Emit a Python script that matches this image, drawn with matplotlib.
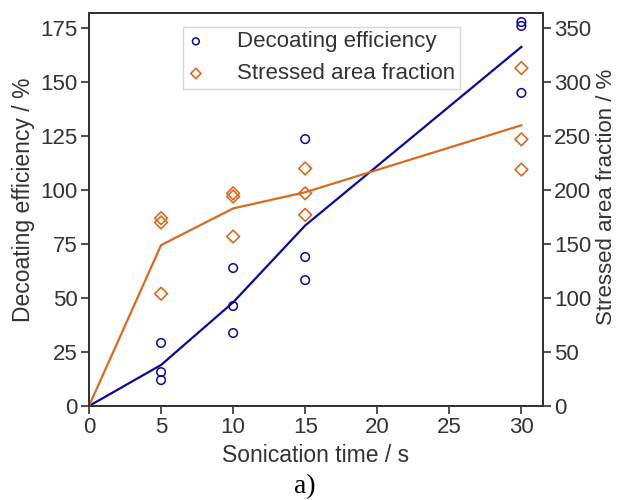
import matplotlib
matplotlib.use("Agg")
import matplotlib.pyplot as plt

plt.rcParams['font.family'] = ['Liberation Sans', 'DejaVu Sans']

# scatter data
t_decoat = [5, 5, 5, 10, 10, 10, 15, 15, 15, 30, 30, 30]
decoat = [29.2, 15.7, 12.0, 63.9, 46.3, 33.8, 123.6, 69.0, 58.3, 177.8, 176.0, 145.0]
t_stress = [5, 5, 5, 10, 10, 10, 15, 15, 15, 30, 30, 30]
stress = [174, 170, 104, 197, 194, 157, 220, 197, 177, 313, 247, 219]

# mean lines
t_line = [0, 5, 10, 15, 30]
decoat_mean = [0, 19.0, 48.0, 83.6, 166.3]
stress_mean = [0, 149, 183, 198, 260]

blue = '#0a0a9a'
orange = '#d96a1e'
txt = '#333333'

fig = plt.figure(figsize=(6.19, 5.0), dpi=100)
ax = fig.add_axes([89/619, 1 - 406/500, (543-89)/619, (406-13)/500])
ax2 = ax.twinx()

ax.plot(t_line, decoat_mean, color=blue, lw=1.6)
h1 = ax.scatter(t_decoat, decoat, s=38, facecolors='none', edgecolors=blue,
                linewidths=1.1, marker='o', label='Decoating efficiency')
ax2.plot(t_line, stress_mean, color=orange, lw=1.6)
h2 = ax2.scatter(t_stress, stress, s=42, facecolors='none', edgecolors=orange,
                 linewidths=1.2, marker='D', label='Stressed area fraction')

ax.set_xlim(0, 31.5)
ax.set_ylim(0, 182)
ax2.set_ylim(0, 364)
ax.set_xticks(range(0, 31, 5))
ax.set_yticks(range(0, 176, 25))
ax2.set_yticks(range(0, 351, 50))

for a in (ax, ax2):
    a.tick_params(labelsize=16, colors=txt, length=6, width=1.2, direction='out', pad=2)
    for s in a.spines.values():
        s.set_color(txt)
        s.set_linewidth(1.3)

ax.set_xlabel('Sonication time / s', fontsize=16.5, color=txt, labelpad=4)
ax.set_ylabel('Decoating efficiency / %', fontsize=16.5, color=txt, labelpad=4)
ax2.set_ylabel('Stressed area fraction / %', fontsize=16, color=txt, labelpad=3)
ax.yaxis.label.set_y(0.525)
ax2.yaxis.label.set_y(0.532)

leg = ax.legend([h1, h2], ['Decoating efficiency', 'Stressed area fraction'],
                loc='upper left', bbox_to_anchor=(0.206, 0.965), fontsize=16,
                fancybox=False, edgecolor='#cccccc', handlelength=0.8,
                handletextpad=1.45, borderpad=0.2, labelspacing=0.5,
                borderaxespad=0, markerscale=0.8)
for t in leg.get_texts():
    t.set_color(txt)

fig.text(305/619, 1 - 487/500, 'a)', fontsize=20, ha='center', va='center',
         family=['Liberation Serif', 'DejaVu Serif'])

fig.savefig('out.png', dpi=100)
